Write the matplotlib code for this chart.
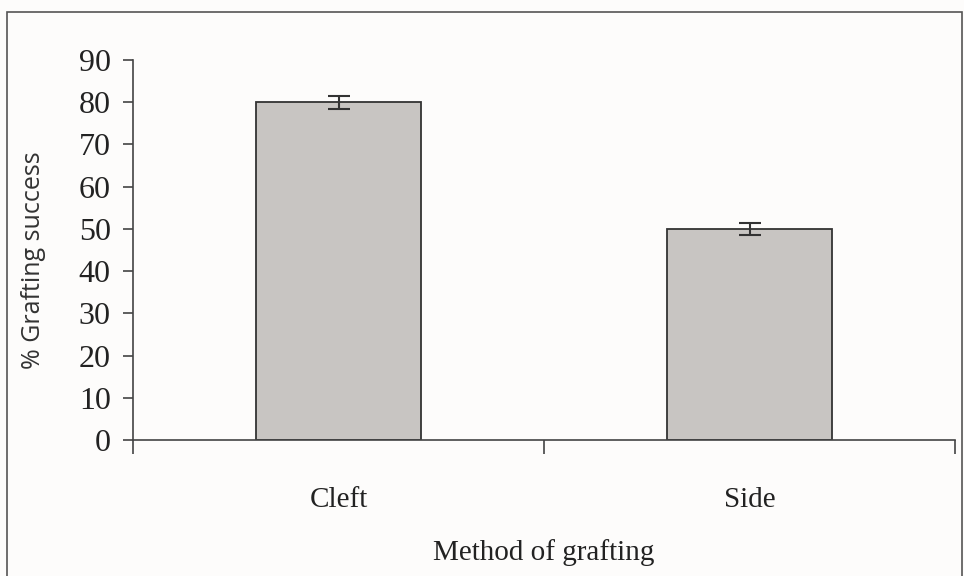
import matplotlib.pyplot as plt
from matplotlib.patches import Rectangle

# data
methods = ["Cleft", "Side"]
success = [80, 50]
errors = [1.5, 1.5]

fig = plt.figure(figsize=(9.64, 5.76), dpi=100)
fig.patch.set_facecolor("#fdfcfb")

# outer frame of the scanned figure
fig.patches.append(Rectangle((7 / 964, -0.01), 955 / 964, 1 - 12 / 576 + 0.01,
                             transform=fig.transFigure, fill=False,
                             edgecolor="#555555", linewidth=1.2))

ax = fig.add_axes([133 / 964, 1 - 440 / 576, (955 - 133) / 964, (440 - 60) / 576])
ax.set_facecolor("none")

x = range(len(methods))
ax.bar(x, success, width=0.4, color="#c8c5c2", edgecolor="#333333", linewidth=1.3)
ax.errorbar(x, success, yerr=errors, fmt="none", ecolor="#333333",
            elinewidth=1.5, capsize=8, capthick=1.5)

ax.set_xlim(-0.5, 1.5)
ax.set_ylim(0, 90)
ax.set_yticks(range(0, 91, 10))
ax.set_xticks(list(x))
ax.set_xticklabels(methods)
ax.set_xticks([-0.5, 0.5, 1.5], minor=True)
ax.tick_params(axis="x", which="major", length=0, pad=34, labelsize=21)
ax.tick_params(axis="x", which="minor", length=10, width=1.2, color="#444444")
ax.tick_params(axis="y", length=7, width=1.2, color="#444444", labelsize=23, pad=9)
for lbl in ax.get_xticklabels() + ax.get_yticklabels():
    lbl.set_family("Liberation Serif")
    lbl.set_color("#222222")

for s in ["top", "right"]:
    ax.spines[s].set_visible(False)
for s in ["left", "bottom"]:
    ax.spines[s].set_color("#444444")
    ax.spines[s].set_linewidth(1.2)

fig.text(544 / 964, 1 - 553 / 576, "Method of grafting", ha="center", va="center",
         fontsize=21, family="Liberation Serif", color="#222222")
fig.text(34 / 964, 1 - 260 / 576, "% Grafting success", rotation=90,
         ha="center", va="center", fontsize=18, family="Open Sans", color="#333333")

fig.savefig("out.png", dpi=100)
